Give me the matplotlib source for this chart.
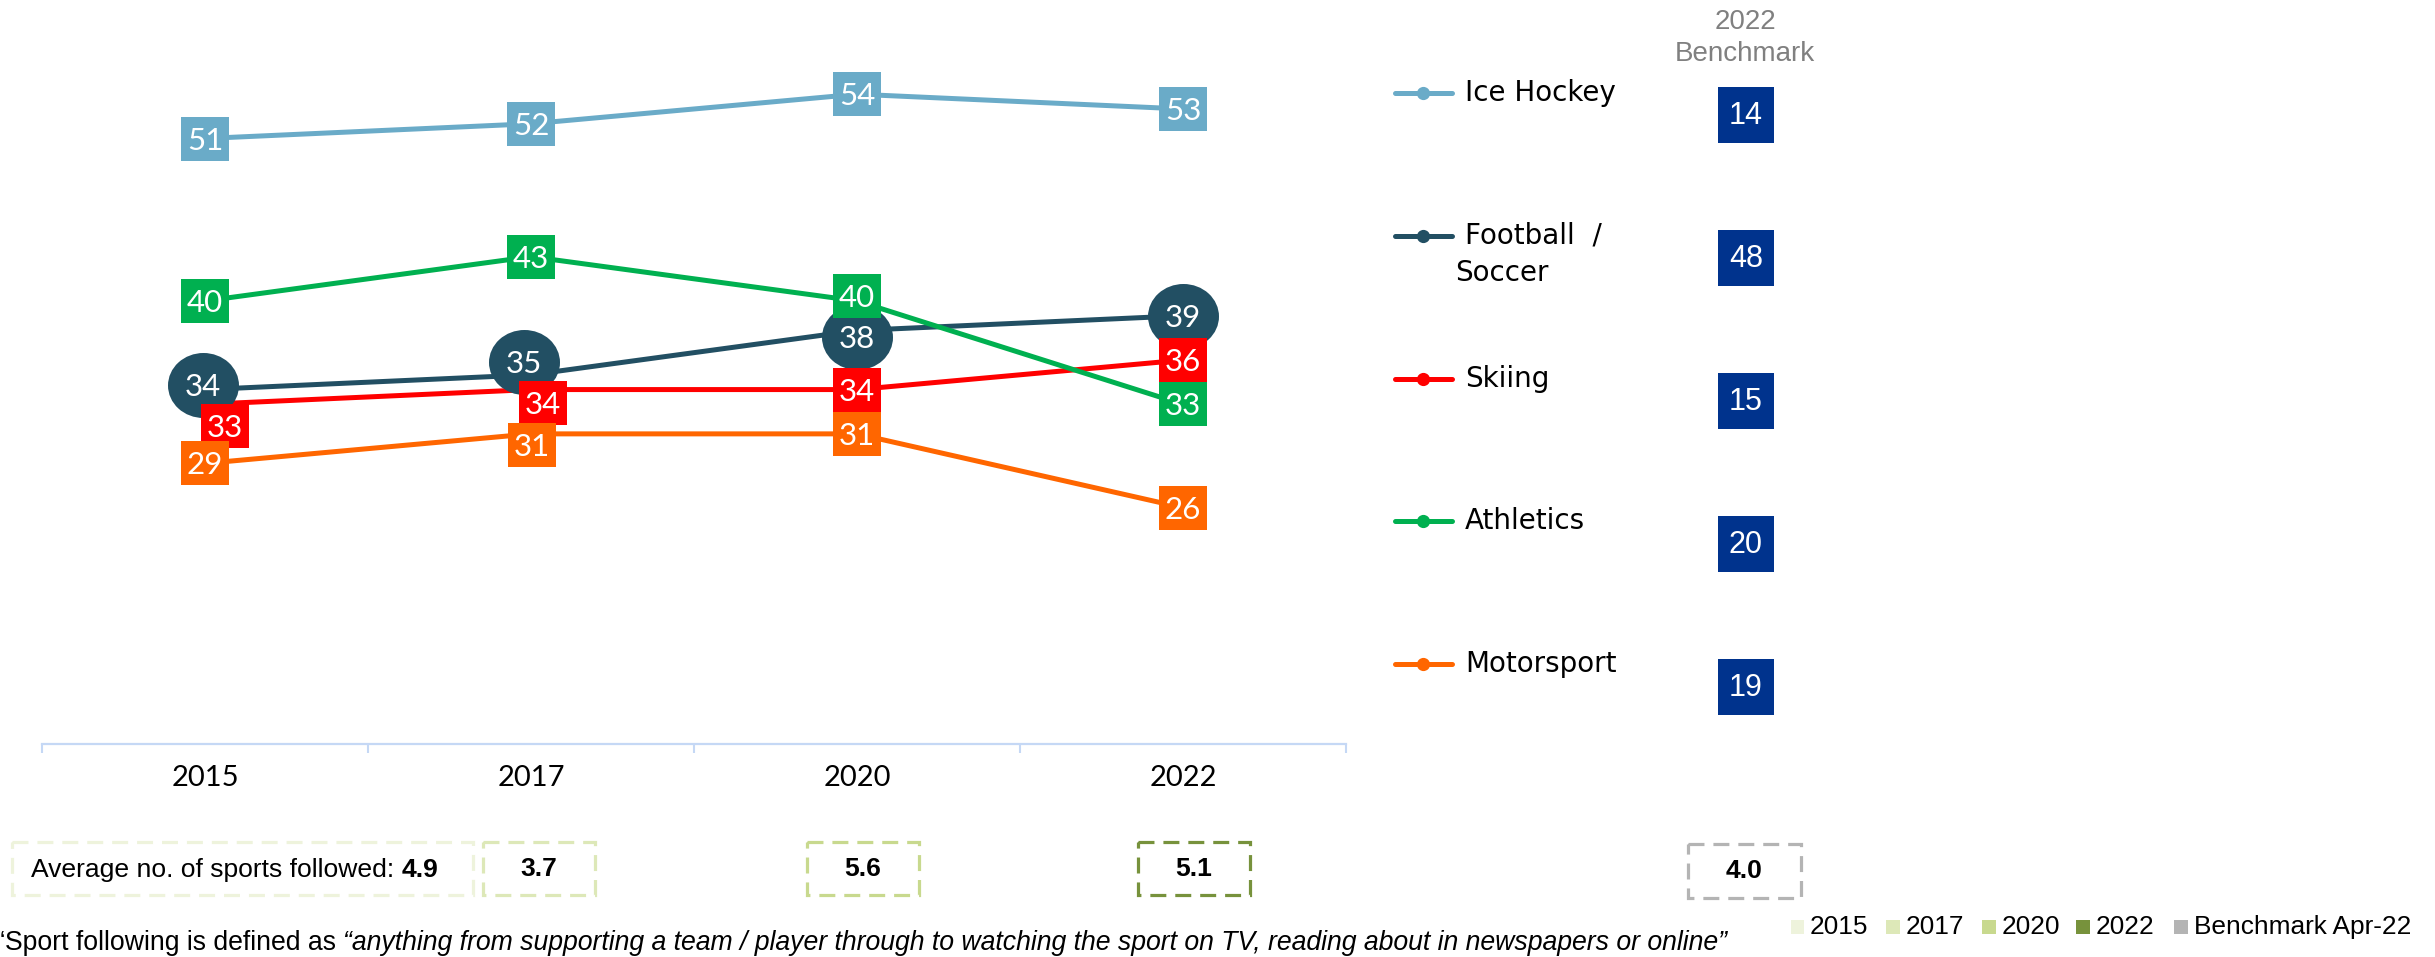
import matplotlib
matplotlib.use('Agg')
import matplotlib.pyplot as plt
import numpy as np
from matplotlib.path import Path
from matplotlib.markers import MarkerStyle
from matplotlib.patches import Rectangle
from matplotlib.lines import Line2D
from matplotlib.transforms import ScaledTranslation
from matplotlib import font_manager as fm

# ---------------- data ----------------
years = ['2015', '2017', '2020', '2022']
sports = ['Ice Hockey', 'Football / Soccer', 'Skiing', 'Athletics', 'Motorsport']
ice_hockey = [51, 52, 54, 53]
football = [34, 35, 38, 39]
skiing = [33, 34, 34, 36]
athletics = [40, 43, 40, 33]
motorsport = [29, 31, 31, 26]
benchmark_2022 = [14, 48, 15, 20, 19]
avg_labels = ['2015', '2017', '2020', '2022', 'Benchmark Apr-22']
avg_sports = [4.9, 3.7, 5.6, 5.1, 4.0]
footnote_plain = '\u201cSport following is defined as '
footnote_italic = ('\u201canything from supporting a team / player through to watching the sport '
                   'on TV, reading about in newspapers or online\u201d')

# ---------------- style ----------------
C_ICE, C_FOOT, C_SKI, C_ATH, C_MOTO = '#6aabc8', '#224f63', '#ff0000', '#00b050', '#ff6600'
C_BENCH = '#00338d'
AVG_COLORS = ['#eef3dc', '#dde8b8', '#c8d98e', '#77923c', '#b4b4b4']
AXIS_C = '#c5d8f5'
LBL_FONT = 'Lato'

def has_font(name):
    try:
        fm.findfont(fm.FontProperties(family=name), fallback_to_default=False)
        return True
    except Exception:
        return False

BOTTOM_FONT = 'Liberation Sans Narrow' if has_font('Liberation Sans Narrow') else 'Liberation Sans'

W, H, DPI = 2435, 957, 100
fig = plt.figure(figsize=(W / DPI, H / DPI), dpi=DPI)

# main axes: category boundaries at 42..1346 px, value 10 at y=744 px, value 60 at y=5.6 px
ax = fig.add_axes([42 / W, (H - 744) / H, 1304 / W, (744 - 5.6) / H])
ax.set_xlim(-0.5, 3.5)
ax.set_ylim(10, 60)
for s in ['top', 'right', 'left']:
    ax.spines[s].set_visible(False)
ax.spines['bottom'].set_color(AXIS_C)
ax.spines['bottom'].set_linewidth(1.6)
ax.set_yticks([])
ax.set_xticks(range(len(years)))
ax.set_xticklabels(years, fontsize=21, family=LBL_FONT, color='black')
ax.set_xticks([-0.5, 0.5, 1.5, 2.5, 3.5], minor=True)
ax.tick_params(axis='x', which='major', length=0, pad=15)
ax.tick_params(axis='x', which='minor', length=6.5, width=1.5, color=AXIS_C, direction='out')
ax.patch.set_visible(False)

rect_path = Path([(-24.5, -22.5), (24.5, -22.5), (24.5, 22.5), (-24.5, 22.5), (-24.5, -22.5)],
                 [Path.MOVETO, Path.LINETO, Path.LINETO, Path.LINETO, Path.CLOSEPOLY])
RECT = MarkerStyle(rect_path)
RECT_MS = 49 * 0.72
circ = Path.unit_circle()
ell_path = Path(circ.vertices * np.array([35.5, 32.5]), circ.codes)
ELL = MarkerStyle(ell_path)
ELL_MS = 71 * 0.72

# label box offsets in pixels (right, down) to avoid overlaps
series = [
    (football, C_FOOT, ELL, ELL_MS, [(-2, -5), (-7, -13), (0, 7), (0, 0)]),
    (skiing, C_SKI, RECT, RECT_MS, [(20, 22), (12, 13), (0, 0), (0, 0)]),
    (motorsport, C_MOTO, RECT, RECT_MS, [(0, 0), (1, 11), (0, 0), (0, 0)]),
    (athletics, C_ATH, RECT, RECT_MS, [(0, 0), (0, 0), (0, -5), (0, 0)]),
    (ice_hockey, C_ICE, RECT, RECT_MS, [(0, 0), (0, 0), (0, 0), (0, 0)]),
]
x = np.arange(len(years))
z = 3
for vals, col, mk, ms, offs in series:
    ax.plot(x, vals, color=col, lw=3.6, zorder=2, solid_capstyle='butt', clip_on=False)
for vals, col, mk, ms, offs in series:
    z += 1
    for xi, v, (dx, dy) in zip(x, vals, offs):
        tr = ax.transData + ScaledTranslation(dx / DPI, -dy / DPI, fig.dpi_scale_trans)
        ax.plot([xi], [v], marker=mk, markersize=ms, color=col, markeredgewidth=0,
                linestyle='none', transform=tr, zorder=z, clip_on=False)
        ax.annotate(str(v), (xi, v), xytext=(dx * 0.72, -(dy + 2) * 0.72),
                    textcoords='offset points', ha='center', va='center',
                    color='white', fontsize=22.5, family=LBL_FONT, zorder=z + 0.5,
                    annotation_clip=False)

# overlay axes in pixel coordinates for legend / side panels
ov = fig.add_axes([0, 0, 1, 1])
ov.set_xlim(0, W)
ov.set_ylim(H, 0)
ov.axis('off')
ov.patch.set_visible(False)

# right-hand legend
leg_colors = [C_ICE, C_FOOT, C_SKI, C_ATH, C_MOTO]
for i, (name, col) in enumerate(zip(sports, leg_colors)):
    yy = 93 + i * 142.8
    ov.add_line(Line2D([1395, 1452], [yy, yy], color=col, lw=3.6, solid_capstyle='round'))
    ov.plot([1423], [yy], marker='o', markersize=9.5, color=col, markeredgewidth=0)
    if name == 'Football / Soccer':
        ov.text(1465, yy, 'Football  /', fontsize=20, family='DejaVu Sans', va='center', ha='left')
        ov.text(1455, yy + 37.5, 'Soccer', fontsize=20, family='DejaVu Sans', va='center', ha='left')
    else:
        ov.text(1465, yy, name, fontsize=20, family='DejaVu Sans', va='center', ha='left')

# benchmark column
ov.text(1745, 21.6, '2022', fontsize=20, family='Liberation Sans', color='#808080', ha='center', va='center')
ov.text(1745, 54, 'Benchmark', fontsize=20, family='Liberation Sans', color='#808080', ha='center', va='center')
for i, b in enumerate(benchmark_2022):
    yc = 114.7 + i * 143
    ov.add_patch(Rectangle((1718, yc - 28), 56, 56, facecolor=C_BENCH, edgecolor='none'))
    ov.text(1746, yc + 1, str(b), fontsize=22, family='Liberation Sans', color='white',
            ha='center', va='center')

renderer = fig.canvas.get_renderer()

def width_px(t):
    return t.get_window_extent(renderer=renderer).width

# average number of sports boxes
box_x = [(12, 473), (483, 595), (807, 919), (1138, 1250), (1688, 1801)]
box_y = [(842, 895), (842, 895), (842, 895), (842, 895), (844, 898)]
for (x0, x1), (y0, y1), col in zip(box_x, box_y, AVG_COLORS):
    ov.add_patch(Rectangle((x0, y0), x1 - x0, y1 - y0, facecolor='none', edgecolor=col,
                           lw=2.3, linestyle=(0, (5, 2.8))))

# first box: fit the text to its measured width
fs = 20
t1 = ov.text(31, 870, 'Average no. of sports followed: ', fontsize=fs, family=BOTTOM_FONT,
             ha='left', va='center')
t2 = ov.text(0, 870, f'{avg_sports[0]:.1f}', fontsize=fs, family=BOTTOM_FONT, weight='bold',
             ha='left', va='center')
tot = width_px(t1) + width_px(t2)
fs = fs * (437 - 31) / tot
t1.set_fontsize(fs)
t2.set_fontsize(fs)
t2.set_x(31 + width_px(t1))
BOX_FS = fs
for (x0, x1), (y0, y1), v in zip(box_x[1:], box_y[1:], avg_sports[1:]):
    ov.text((x0 + x1) / 2, (y0 + y1) / 2, f'{v:.1f}', fontsize=BOX_FS, family=BOTTOM_FONT,
            weight='bold', ha='center', va='center')

# bottom legend
sq_x = [1790.6, 1886, 1982, 2076, 2174]
lt = ov.text(2194, 927, avg_labels[-1], fontsize=20, family=BOTTOM_FONT, ha='left', va='center')
LEG_FS = 20 * 217 / width_px(lt)
lt.set_fontsize(LEG_FS)
for sx, lab, col in zip(sq_x, avg_labels, AVG_COLORS):
    ov.add_patch(Rectangle((sx, 920), 13.5, 13.5, facecolor=col, edgecolor='none'))
    if lab != avg_labels[-1]:
        ov.text(sx + 19.5, 927, lab, fontsize=LEG_FS, family=BOTTOM_FONT, ha='left', va='center')

# footnote
f1 = ov.text(-4, 943, footnote_plain, fontsize=20, family=BOTTOM_FONT, ha='left', va='center')
f2 = ov.text(0, 943, footnote_italic, fontsize=20, family=BOTTOM_FONT, style='italic',
             ha='left', va='center')
tot = width_px(f1) + width_px(f2)
ffs = 20 * (1725 + 4) / tot
f1.set_fontsize(ffs)
f2.set_fontsize(ffs)
f2.set_x(-4 + width_px(f1))

fig.savefig('out.png', dpi=DPI, facecolor='white')
